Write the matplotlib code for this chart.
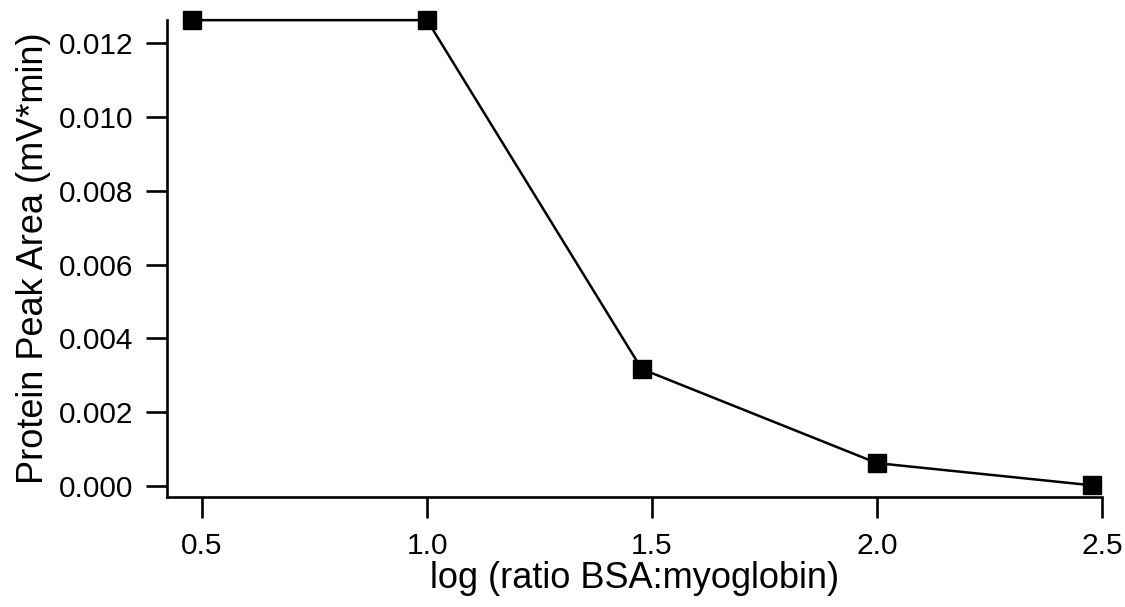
import matplotlib
matplotlib.use("Agg")
import matplotlib.pyplot as plt

plt.rcParams['font.family'] = ['Liberation Sans', 'DejaVu Sans']

# log10 of BSA:myoglobin ratio and measured peak areas
log_ratio = [0.477, 1.0, 1.477, 2.0, 2.477]
peak_area = [0.01262, 0.01262, 0.00317, 0.00062, 0.00002]

x_ticks = [0.5, 1.0, 1.5, 2.0, 2.5]
y_ticks = [0.000, 0.002, 0.004, 0.006, 0.008, 0.010, 0.012]

fig = plt.figure(figsize=(11.25, 6.07), dpi=100)
ax = fig.add_axes([0.1484, 0.1812, 0.9796 - 0.1484, 0.967 - 0.1812])

ax.plot(log_ratio, peak_area, color='black', linewidth=1.8,
        marker='s', markersize=12.5, markerfacecolor='black',
        markeredgecolor='black', clip_on=False, zorder=3)

ax.set_xlim(0.422, 2.5)
ax.set_ylim(-0.000298, 0.012623)
ax.set_xticks(x_ticks)
ax.set_xticklabels([f"{v:.1f}" for v in x_ticks])
ax.set_yticks(y_ticks)
ax.set_yticklabels([f"{v:.3f}" for v in y_ticks])

for side in ('top', 'right'):
    ax.spines[side].set_visible(False)
for side in ('left', 'bottom'):
    ax.spines[side].set_linewidth(1.9)

ax.tick_params(axis='both', direction='out', length=15, width=1.9,
               labelsize=21.5, colors='black')
ax.tick_params(axis='y', pad=9)
ax.tick_params(axis='x', pad=10)

ax.set_xlabel("log (ratio BSA:myoglobin)", fontsize=26, labelpad=1)
ax.set_ylabel("Protein Peak Area (mV*min)", fontsize=26, labelpad=6)

fig.savefig("out.png", dpi=100)
